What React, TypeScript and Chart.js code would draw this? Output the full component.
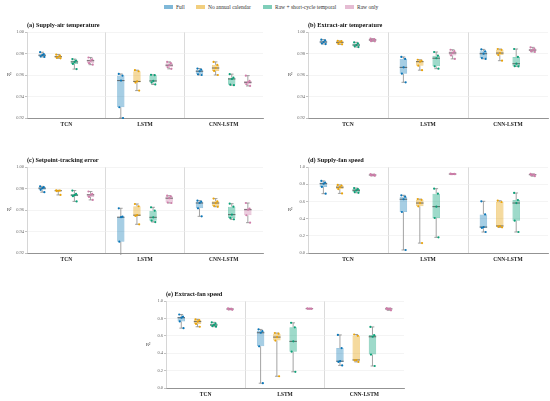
import React, { useEffect, useRef } from "react";
import { Chart, registerables } from "chart.js";

Chart.register(...registerables);

const FONT = "'Liberation Serif', 'DejaVu Serif', serif";

const categories = ["TCN", "LSTM", "CNN-LSTM"];
const seriesNames = ["Full", "No annual calendar", "Raw + short-cycle temporal", "Raw only"];
const seriesColors = ["#0a76b8", "#e9a30a", "#0aa077", "#cf7eaa"];
const seriesFills = ["rgba(0,114,178,0.35)", "rgba(230,159,0,0.38)", "rgba(0,158,115,0.38)", "rgba(204,121,167,0.38)"];
const seriesEdges = ["rgba(0,114,178,0.45)", "rgba(230,159,0,0.5)", "rgba(0,158,115,0.5)", "rgba(204,121,167,0.5)"];

// (a) Supply-air temperature — runs per category [TCN, LSTM, CNN-LSTM]
const supplyAirFull = [[0.9812, 0.9794, 0.9784, 0.9772, 0.9768], [0.961, 0.9595, 0.9548, 0.93, 0.92], [0.966, 0.965, 0.9635, 0.9606, 0.96]];
const supplyAirNoCal = [[0.979, 0.978, 0.977, 0.976, 0.9755], [0.9645, 0.9635, 0.954, 0.953, 0.9455], [0.9722, 0.9694, 0.9665, 0.9638, 0.96]];
const supplyAirShort = [[0.9748, 0.9735, 0.9722, 0.9703, 0.9655], [0.9602, 0.9598, 0.9545, 0.953, 0.9512], [0.9608, 0.9575, 0.9563, 0.951, 0.9505]];
const supplyAirRaw = [[0.9763, 0.9745, 0.9733, 0.971, 0.9696], [0.9722, 0.971, 0.9691, 0.9672, 0.9657], [0.9594, 0.9545, 0.9532, 0.9514, 0.9498]];

// (b) Extract-air temperature
const extractAirFull = [[0.9929, 0.9922, 0.9907, 0.9893, 0.9888], [0.9768, 0.975, 0.9671, 0.9612, 0.9532], [0.9838, 0.982, 0.9798, 0.9757, 0.975]];
const extractAirNoCal = [[0.9918, 0.9915, 0.9904, 0.989, 0.9885], [0.9742, 0.9733, 0.9724, 0.9687, 0.9645], [0.9842, 0.9834, 0.9804, 0.9785, 0.9733]];
const extractAirShort = [[0.9904, 0.9894, 0.9879, 0.9867, 0.986], [0.9814, 0.978, 0.9756, 0.9681, 0.9659], [0.9842, 0.9768, 0.9705, 0.9682, 0.968]];
const extractAirRaw = [[0.9938, 0.9935, 0.9926, 0.9915, 0.9913], [0.9835, 0.9822, 0.9805, 0.9782, 0.975], [0.9857, 0.9845, 0.9832, 0.982, 0.9815]];

// (c) Setpoint-tracking error
const setpointFull = [[0.982, 0.9812, 0.9803, 0.9788, 0.9766], [0.9616, 0.9538, 0.9533, 0.9305, 0.915], [0.9687, 0.9677, 0.9665, 0.9616, 0.9541]];
const setpointNoCal = [[0.9783, 0.9781, 0.9779, 0.9776, 0.974], [0.9656, 0.9635, 0.9552, 0.9545, 0.9467], [0.9706, 0.9681, 0.9665, 0.9637, 0.963]];
const setpointShort = [[0.9781, 0.975, 0.9738, 0.9729, 0.968], [0.9625, 0.9594, 0.9532, 0.9501, 0.9488], [0.9659, 0.9631, 0.9557, 0.9526, 0.9513]];
const setpointRaw = [[0.9772, 0.975, 0.9741, 0.9722, 0.9694], [0.9733, 0.9728, 0.971, 0.967, 0.9665], [0.9665, 0.9613, 0.9603, 0.9551, 0.9482]];

// (d) Supply-fan speed
const supplyFanFull = [[0.838, 0.82, 0.806, 0.768, 0.69], [0.671, 0.655, 0.625, 0.477, 0.035], [0.601, 0.449, 0.302, 0.292, 0.244]];
const supplyFanNoCal = [[0.792, 0.785, 0.765, 0.743, 0.693], [0.627, 0.618, 0.581, 0.543, 0.115], [0.608, 0.593, 0.314, 0.306, 0.298]];
const supplyFanShort = [[0.755, 0.743, 0.729, 0.708, 0.7], [0.748, 0.69, 0.539, 0.407, 0.182], [0.698, 0.616, 0.581, 0.376, 0.244]];
const supplyFanRaw = [[0.916, 0.912, 0.907, 0.902, 0.897], [0.922, 0.92, 0.918, 0.917, 0.916], [0.92, 0.912, 0.91, 0.906, 0.893]];

// (e) Extract-fan speed
const extractFanFull = [[0.845, 0.82, 0.808, 0.765, 0.688], [0.673, 0.655, 0.635, 0.479, 0.055], [0.61, 0.459, 0.308, 0.3, 0.26]];
const extractFanNoCal = [[0.79, 0.781, 0.763, 0.737, 0.704], [0.632, 0.625, 0.585, 0.545, 0.135], [0.615, 0.6, 0.322, 0.317, 0.3]];
const extractFanShort = [[0.755, 0.742, 0.725, 0.712, 0.705], [0.749, 0.697, 0.536, 0.417, 0.186], [0.702, 0.608, 0.589, 0.384, 0.253]];
const extractFanRaw = [[0.916, 0.911, 0.908, 0.903, 0.899], [0.915, 0.913, 0.912, 0.911, 0.91], [0.918, 0.913, 0.909, 0.904, 0.893]];

const panelTitles = [
  "(a) Supply-air temperature",
  "(b) Extract-air temperature",
  "(c) Setpoint-tracking error",
  "(d) Supply-fan speed",
  "(e) Extract-fan speed",
];
const panelRuns = [
  [supplyAirFull, supplyAirNoCal, supplyAirShort, supplyAirRaw],
  [extractAirFull, extractAirNoCal, extractAirShort, extractAirRaw],
  [setpointFull, setpointNoCal, setpointShort, setpointRaw],
  [supplyFanFull, supplyFanNoCal, supplyFanShort, supplyFanRaw],
  [extractFanFull, extractFanNoCal, extractFanShort, extractFanRaw],
];
const tempAxis = { min: 0.92, max: 1.0, step: 0.02, decimals: 2 };
const fanAxis = { min: 0, max: 1.0, step: 0.2, decimals: 1 };
const panelAxes = [tempAxis, tempAxis, tempAxis, fanAxis, fanAxis];

// plot-area boxes on the page: [left, top, right, bottom]
const panelLayout = [
  [27, 32, 263, 118],
  [308, 32, 548, 118],
  [27, 167, 263, 253],
  [308, 167, 548, 253],
  [166, 301, 404, 388],
];

const legendBoxX = [164, 196, 263, 345];

const jitter = [-0.55, 0.45, 0.05, -0.4, 0.6];

function quantile(sorted: number[], p: number) {
  const pos = (sorted.length - 1) * p;
  const lo = Math.floor(pos);
  const hi = Math.ceil(pos);
  return sorted[lo] + (sorted[hi] - sorted[lo]) * (pos - lo);
}
function boxStats(vals: number[]) {
  const s = [...vals].sort((a, b) => a - b);
  return { min: s[0], q1: quantile(s, 0.25), med: quantile(s, 0.5), q3: quantile(s, 0.75), max: s[s.length - 1] };
}

const Y_W = 18;
const X_H = 12;

function Panel({ idx }: { idx: number }) {
  const ref = useRef<HTMLCanvasElement>(null);
  const [pl, pt, pr, pb] = panelLayout[idx];
  const cl = pl - 26;
  const ct = pt - 18;
  const cw = pr + 4 - cl;
  const chh = pb + 14 - ct;

  useEffect(() => {
    const title = panelTitles[idx];
    const runs = panelRuns[idx];
    const ax = panelAxes[idx];
    const decor = {
      id: "decor",
      afterDatasetsDraw(chart: any) {
        const { ctx, chartArea: a } = chart;
        const y = chart.scales.y;
        ctx.save();
        ctx.beginPath();
        ctx.rect(a.left, a.top - 3, a.right - a.left, a.bottom - a.top + 5);
        ctx.clip();
        chart.data.datasets.forEach((ds: any, s: number) => {
          const meta = chart.getDatasetMeta(s);
          meta.data.forEach((el: any, c: number) => {
            const vals: number[] = ds.runs[c];
            const st = boxStats(vals);
            const x = el.x;
            const w = el.width;
            const yMax = y.getPixelForValue(st.max);
            const yMin = y.getPixelForValue(st.min);
            ctx.strokeStyle = "#8c8c8c";
            ctx.lineWidth = 0.8;
            ctx.beginPath();
            ctx.moveTo(x, y.getPixelForValue(st.q3));
            ctx.lineTo(x, yMax);
            ctx.moveTo(x, y.getPixelForValue(st.q1));
            ctx.lineTo(x, yMin);
            const cap = w * 0.25;
            ctx.moveTo(x - cap, yMax);
            ctx.lineTo(x + cap, yMax);
            ctx.moveTo(x - cap, yMin);
            ctx.lineTo(x + cap, yMin);
            ctx.stroke();
            const yMed = y.getPixelForValue(st.med);
            ctx.strokeStyle = "#4a4a4a";
            ctx.lineWidth = 0.8;
            ctx.beginPath();
            ctx.moveTo(x - w / 2, yMed);
            ctx.lineTo(x + w / 2, yMed);
            ctx.stroke();
            ctx.fillStyle = seriesColors[s];
            vals.forEach((v, i) => {
              ctx.beginPath();
              ctx.arc(x + (jitter[i % jitter.length] * w) / 2, y.getPixelForValue(v), 1.1, 0, Math.PI * 2);
              ctx.fill();
            });
          });
        });
        ctx.restore();
        ctx.save();
        ctx.fillStyle = "#111";
        ctx.font = `bold 6.3px ${FONT}`;
        ctx.textAlign = "left";
        ctx.textBaseline = "alphabetic";
        ctx.fillText(title, a.left, a.top - 5);
        ctx.font = `4.6px ${FONT}`;
        ctx.fillStyle = "#333";
        ctx.textBaseline = "middle";
        ctx.fillText("R²", a.left - 20, (a.top + a.bottom) / 2);
        ctx.restore();
      },
    };

    const chart = new Chart(ref.current as HTMLCanvasElement, {
      type: "bar",
      data: {
        labels: categories,
        datasets: seriesNames.map((name, s) => ({
          label: name,
          data: runs[s].map((r: number[]) => {
            const st = boxStats(r);
            return [st.q1, st.q3];
          }),
          runs: runs[s],
          backgroundColor: seriesFills[s],
          borderColor: seriesEdges[s],
          borderWidth: 0.7,
          borderSkipped: false,
          barPercentage: 0.46,
          categoryPercentage: 0.82,
        })) as any,
      },
      options: {
        responsive: false,
        animation: false,
        events: [],
        layout: { padding: { left: 26 - Y_W, top: 18, right: 4, bottom: 14 - X_H } },
        plugins: { legend: { display: false }, tooltip: { enabled: false }, title: { display: false } },
        scales: {
          x: {
            type: "category",
            offset: true,
            grid: {
              offset: true,
              drawTicks: false,
              lineWidth: 0.8,
              color: (c: any) => (c.index === 1 || c.index === 2 ? "#d2d2d2" : "rgba(0,0,0,0)"),
            },
            border: { display: true, color: "#7a7a7a", width: 0.8 },
            ticks: {
              color: "#222",
              font: { family: FONT, size: 5.5, weight: "bold" },
              padding: 3.5,
              maxRotation: 0,
              autoSkip: false,
            },
            afterFit: (s: any) => {
              s.height = X_H;
            },
          },
          y: {
            min: ax.min,
            max: ax.max,
            ticks: {
              stepSize: ax.step,
              color: "#666",
              font: { family: FONT, size: 4.5 },
              padding: 1,
              callback: (v: any) => Number(v).toFixed(ax.decimals),
            },
            grid: { color: "#ececec", lineWidth: 0.6, tickLength: 2, tickColor: "#999", tickWidth: 0.6 },
            border: { display: true, color: "#bbbbbb", width: 0.6 },
            afterFit: (s: any) => {
              s.width = Y_W;
            },
          },
        },
      } as any,
      plugins: [decor],
    });
    return () => chart.destroy();
  }, [idx]);

  return (
    <canvas
      ref={ref}
      width={cw}
      height={chh}
      style={{ position: "absolute", left: cl, top: ct, width: cw, height: chh }}
    />
  );
}

export default function App() {
  return (
    <div
      style={{
        position: "fixed",
        left: 0,
        top: 0,
        width: 550,
        height: 401,
        background: "#fff",
        overflow: "hidden",
        fontFamily: FONT,
      }}
    >
      {seriesNames.map((name, s) => (
        <div
          key={name}
          style={{
            position: "absolute",
            left: legendBoxX[s],
            top: 3,
            height: 8,
            display: "flex",
            alignItems: "center",
            whiteSpace: "nowrap",
          }}
        >
          <span
            style={{
              display: "inline-block",
              width: 9,
              height: 4,
              background: seriesFills[s].replace(/[\d.]+\)$/, "0.5)"),
              marginRight: 3,
            }}
          />
          <span style={{ fontSize: 5.5, color: "#333", lineHeight: "8px" }}>{name}</span>
        </div>
      ))}
      {panelTitles.map((t, i) => (
        <Panel key={t} idx={i} />
      ))}
    </div>
  );
}
